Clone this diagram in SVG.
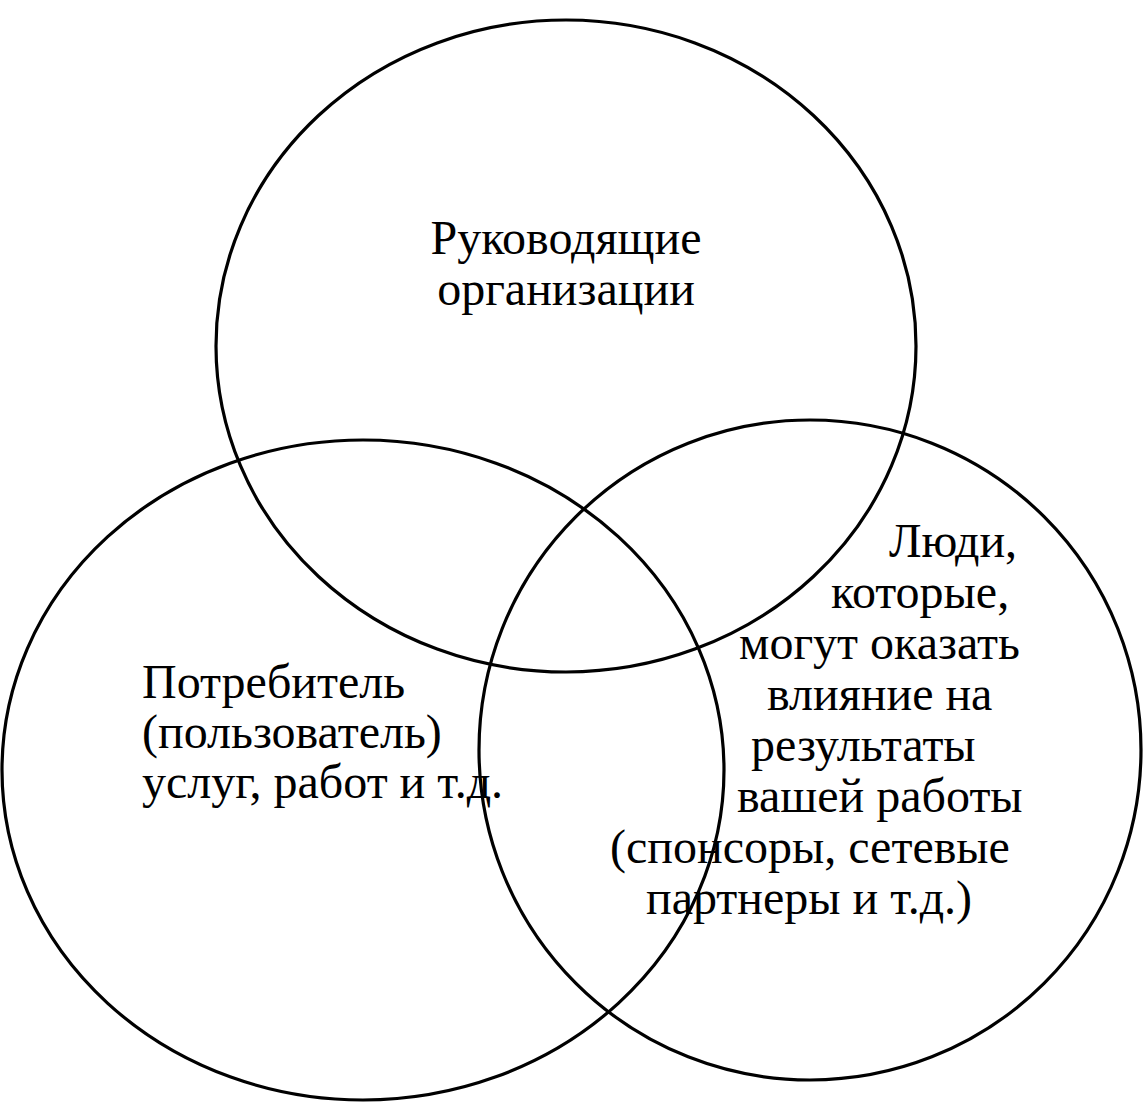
<svg xmlns="http://www.w3.org/2000/svg" width="1143" height="1103" viewBox="0 0 1143 1103">
<style>
.c{fill:none;stroke:#000;stroke-width:3.2}
.t{font-family:"Liberation Serif","Times New Roman",serif;font-size:48px;fill:#000}
</style>
<rect width="1143" height="1103" fill="#fff"/>
<g id="top">
<text class="t" text-anchor="middle"><tspan x="566" y="254">Руководящие</tspan><tspan x="566" y="305">организации</tspan></text>
<ellipse class="c" cx="566" cy="346" rx="350" ry="326"/>
</g>
<g id="left">
<text class="t"><tspan x="142" y="698">Потребитель</tspan><tspan x="142" y="748">(пользователь)</tspan><tspan x="142" y="798">услуг, работ и т.д.</tspan></text>
<ellipse class="c" cx="363" cy="770" rx="361" ry="330"/>
</g>
<g id="right">
<text class="t"><tspan x="889" y="557">Люди,</tspan><tspan x="831" y="608">которые,</tspan><tspan x="739" y="659">могут оказать</tspan><tspan x="767" y="710">влияние на</tspan><tspan x="751" y="761">результаты</tspan><tspan x="737" y="812">вашей работы</tspan><tspan x="610" y="863">(спонсоры, сетевые</tspan><tspan x="646" y="914">партнеры и т.д.)</tspan></text>
<ellipse class="c" cx="810" cy="750" rx="331" ry="330"/>
</g>
<g id="connectors"></g>
</svg>
